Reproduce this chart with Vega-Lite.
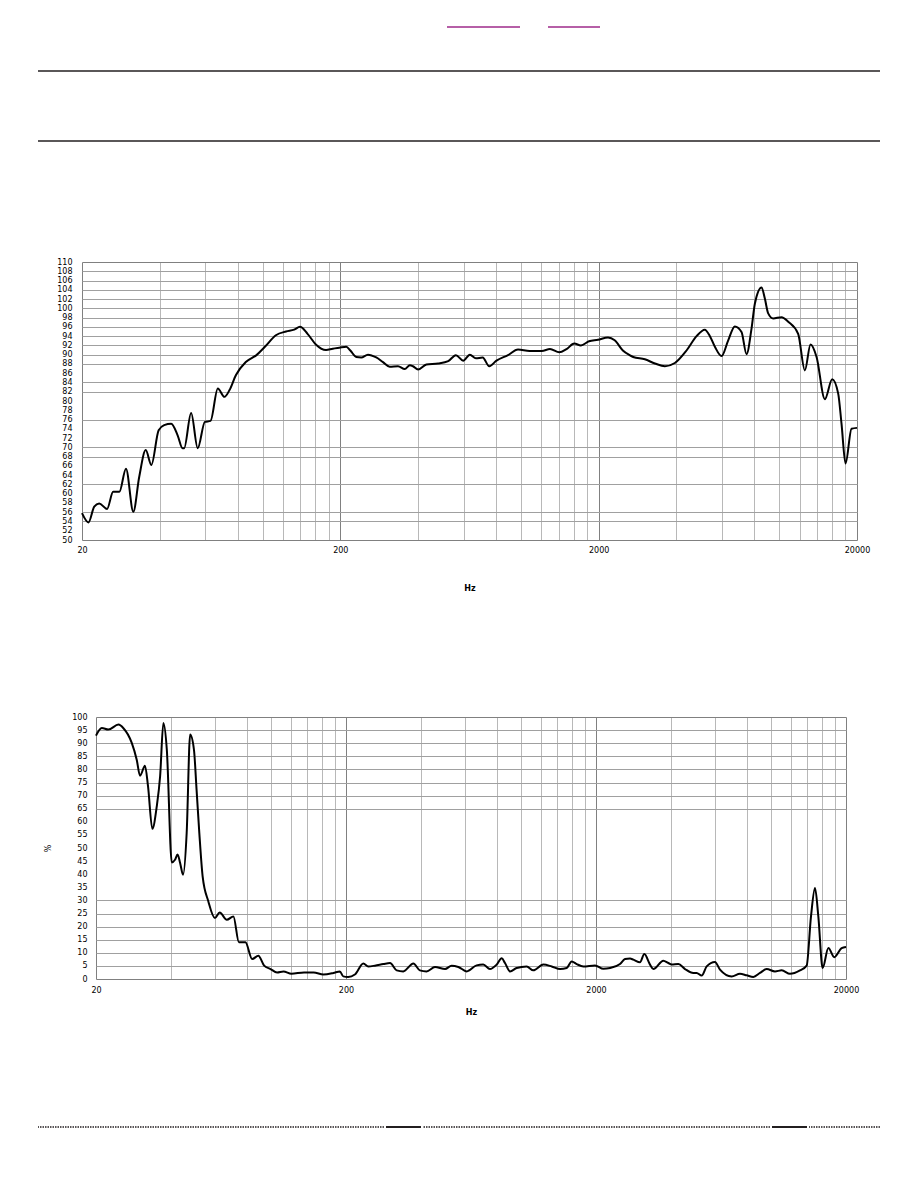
{
  "$schema": "https://vega.github.io/schema/vega-lite/v6.json",
  "background": "white",
  "padding": 0,
  "spacing": 0,
  "config": {
    "view": {"stroke": null},
    "concat": {"spacing": 0},
    "font": "DejaVu Sans",
    "axis": {
      "labelFont": "DejaVu Sans",
      "labelFontSize": 8,
      "labelColor": "#000000",
      "titleFont": "DejaVu Sans",
      "titleFontSize": 8,
      "titleColor": "#000000",
      "ticks": false,
      "tickSize": 0,
      "domain": false,
      "gridWidth": 1
    }
  },
  "vconcat": [
    {"width": 918, "height": 26, "data": {"values": [{}]}, "mark": {"type": "point", "opacity": 0, "size": 0, "strokeWidth": 0}},
    {
      "spacing": 0,
      "hconcat": [
        {"width": 446, "height": 2, "data": {"values": [{}]}, "mark": {"type": "point", "opacity": 0, "size": 0, "strokeWidth": 0}},
        {"width": 73, "height": 2, "data": {"values": [{"k": "link1"}]}, "mark": {"type": "rule", "color": "#9e2a8a", "strokeWidth": 1.5},
         "encoding": {"y": {"field": "k", "type": "nominal", "axis": null, "scale": {"type": "point", "padding": 0}}}},
        {"width": 26, "height": 2, "data": {"values": [{}]}, "mark": {"type": "point", "opacity": 0, "size": 0, "strokeWidth": 0}},
        {"width": 52, "height": 2, "data": {"values": [{"k": "link2"}]}, "mark": {"type": "rule", "color": "#9e2a8a", "strokeWidth": 1.5},
         "encoding": {"y": {"field": "k", "type": "nominal", "axis": null, "scale": {"type": "point", "padding": 0}}}}
      ]
    },
    {"width": 918, "height": 42, "data": {"values": [{}]}, "mark": {"type": "point", "opacity": 0, "size": 0, "strokeWidth": 0}},
    {
      "spacing": 0,
      "hconcat": [
        {"width": 37, "height": 70, "data": {"values": [{}]}, "mark": {"type": "point", "opacity": 0, "size": 0, "strokeWidth": 0}},
        {"width": 842, "height": 70, "data": {"values": [{"k": "upper"}, {"k": "lower"}]},
         "mark": {"type": "rule", "color": "#231f20", "strokeWidth": 1.3},
         "encoding": {"y": {"field": "k", "type": "nominal", "sort": ["upper", "lower"], "axis": null, "scale": {"type": "point", "padding": 0}}}}
      ]
    },
    {"width": 918, "height": 116, "data": {"values": [{}]}, "mark": {"type": "point", "opacity": 0, "size": 0, "strokeWidth": 0}},
    {
      "spacing": 0,
      "hconcat": [
        {"width": 42, "height": 278, "data": {"values": [{}]}, "mark": {"type": "point", "opacity": 0, "size": 0, "strokeWidth": 0}},
        {
          "width": 775,
          "height": 278,
          "data": {"values": [
            {"f": 20, "db": 55.8}, {"f": 21.2, "db": 53.8}, {"f": 22.3, "db": 57.2}, {"f": 23.3, "db": 57.9},
            {"f": 25.0, "db": 56.7}, {"f": 26.4, "db": 60.4}, {"f": 27.9, "db": 60.4}, {"f": 29.6, "db": 65.4},
            {"f": 31.6, "db": 56.1}, {"f": 33.3, "db": 63.6}, {"f": 35.3, "db": 69.4}, {"f": 37.1, "db": 66.2},
            {"f": 39.6, "db": 73.7}, {"f": 41.6, "db": 74.8}, {"f": 44.3, "db": 75.1}, {"f": 46.9, "db": 72.6},
            {"f": 49.0, "db": 69.8}, {"f": 49.7, "db": 69.8}, {"f": 52.9, "db": 77.4}, {"f": 56.1, "db": 69.8},
            {"f": 59.8, "db": 75.5}, {"f": 62.9, "db": 75.7}, {"f": 67.1, "db": 82.7}, {"f": 71.2, "db": 80.9},
            {"f": 74.4, "db": 82.3}, {"f": 78.9, "db": 85.6}, {"f": 86.1, "db": 88.4}, {"f": 94.7, "db": 89.9},
            {"f": 102.1, "db": 91.7}, {"f": 112.6, "db": 94.2}, {"f": 123.3, "db": 95.0}, {"f": 132.6, "db": 95.4},
            {"f": 139.6, "db": 96.0}, {"f": 149.3, "db": 94.5}, {"f": 160.8, "db": 92.2}, {"f": 176.1, "db": 91.0},
            {"f": 187.0, "db": 91.3}, {"f": 198.2, "db": 91.5}, {"f": 210.9, "db": 91.7}, {"f": 218.6, "db": 90.9},
            {"f": 230.6, "db": 89.5}, {"f": 241, "db": 89.4}, {"f": 255.8, "db": 90.0}, {"f": 275.5, "db": 89.4},
            {"f": 292.5, "db": 88.4}, {"f": 310.6, "db": 87.4}, {"f": 334.4, "db": 87.5}, {"f": 355.1, "db": 86.9},
            {"f": 371.6, "db": 87.7}, {"f": 382, "db": 87.5}, {"f": 399.9, "db": 86.8}, {"f": 430.8, "db": 87.9},
            {"f": 478.3, "db": 88.1}, {"f": 523.3, "db": 88.6}, {"f": 560.1, "db": 89.9}, {"f": 597.9, "db": 88.7},
            {"f": 634.6, "db": 90.0}, {"f": 669.5, "db": 89.2}, {"f": 711, "db": 89.4}, {"f": 754.3, "db": 87.5},
            {"f": 804.3, "db": 88.7}, {"f": 891.6, "db": 89.9}, {"f": 974.6, "db": 91.1}, {"f": 1080, "db": 90.8},
            {"f": 1205, "db": 90.8}, {"f": 1296, "db": 91.2}, {"f": 1408, "db": 90.5}, {"f": 1502, "db": 91.2},
            {"f": 1609, "db": 92.4}, {"f": 1707, "db": 92.0}, {"f": 1836, "db": 92.9}, {"f": 1988, "db": 93.2},
            {"f": 2174, "db": 93.7}, {"f": 2307, "db": 93.1}, {"f": 2481, "db": 90.9}, {"f": 2634, "db": 89.9},
            {"f": 2721, "db": 89.5}, {"f": 3018, "db": 89.0}, {"f": 3301, "db": 88.1}, {"f": 3609, "db": 87.5},
            {"f": 3945, "db": 88.2}, {"f": 4377, "db": 90.9}, {"f": 4785, "db": 94.0}, {"f": 5152, "db": 95.4},
            {"f": 5391, "db": 94.0}, {"f": 5636, "db": 91.7}, {"f": 5981, "db": 89.7}, {"f": 6346, "db": 93.1},
            {"f": 6732, "db": 96.1}, {"f": 7145, "db": 94.9}, {"f": 7472, "db": 90.1}, {"f": 7811, "db": 95.6},
            {"f": 8047, "db": 101.0}, {"f": 8540, "db": 104.5}, {"f": 8797, "db": 102.1}, {"f": 9063, "db": 98.9},
            {"f": 9476, "db": 97.8}, {"f": 10210, "db": 98.1}, {"f": 10834, "db": 97.1}, {"f": 11838, "db": 94.5},
            {"f": 12566, "db": 86.6}, {"f": 13218, "db": 92.2}, {"f": 13948, "db": 89.5}, {"f": 15020, "db": 80.4},
            {"f": 16032, "db": 84.7}, {"f": 16915, "db": 81.6}, {"f": 17421, "db": 75.1}, {"f": 18057, "db": 66.5},
            {"f": 19049, "db": 74.0}, {"f": 20000, "db": 74.2}
          ]},
          "mark": {"type": "line", "color": "#000000", "strokeWidth": 2, "interpolate": "monotone"},
          "encoding": {
            "x": {
              "field": "f", "type": "quantitative",
              "scale": {"type": "log", "domain": [20, 20000], "nice": false},
              "axis": {
                "values": [20, 40, 60, 80, 100, 120, 140, 160, 180, 200, 400, 600, 800, 1000, 1200, 1400, 1600, 1800, 2000, 4000, 6000, 8000, 10000, 12000, 14000, 16000, 18000, 20000],
                "format": "d",
                "labelExpr": "indexof([20, 200, 2000, 20000], datum.value) >= 0 ? datum.label : ''",
                "labelOverlap": false,
                "labelFlush": false,
                "labelPadding": 6,
                "gridColor": {"condition": {"test": "indexof([20, 200, 2000, 20000], datum.value) >= 0", "value": "#808080"}, "value": "#b8b8b8"},
                "title": "Hz",
                "titleFontWeight": "bold",
                "titlePadding": 30
              }
            },
            "y": {
              "field": "db", "type": "quantitative",
              "scale": {"domain": [50, 110], "nice": false, "zero": false},
              "axis": {
                "values": [50, 52, 54, 56, 58, 60, 62, 64, 66, 68, 70, 72, 74, 76, 78, 80, 82, 84, 86, 88, 90, 92, 94, 96, 98, 100, 102, 104, 106, 108, 110],
                "labelOverlap": false,
                "labelPadding": 10,
                "gridColor": {"condition": {"test": "datum.value == 50 || datum.value == 110", "value": "#808080"}, "value": "#a0a0a0"},
                "gridOpacity": {"condition": {"test": "indexof([50, 54, 56, 62, 68, 70, 76, 82, 84, 88, 90, 92, 94, 96, 98, 100, 102, 104, 106, 108, 110], datum.value) >= 0", "value": 1}, "value": 0},
                "title": null,
                "minExtent": 40,
                "maxExtent": 40
              }
            }
          }
        }
      ]
    },
    {"width": 918, "height": 121, "data": {"values": [{}]}, "mark": {"type": "point", "opacity": 0, "size": 0, "strokeWidth": 0}},
    {
      "spacing": 0,
      "hconcat": [
        {"width": 44, "height": 262, "data": {"values": [{}]}, "mark": {"type": "point", "opacity": 0, "size": 0, "strokeWidth": 0}},
        {
          "width": 750,
          "height": 262,
          "data": {"values": [
            {"f": 20, "p": 92.9}, {"f": 21.1, "p": 95.8}, {"f": 22.4, "p": 95.2}, {"f": 24.6, "p": 97.1},
            {"f": 25.7, "p": 95.8}, {"f": 27.8, "p": 90.1}, {"f": 29.1, "p": 83.7}, {"f": 30.0, "p": 77.6},
            {"f": 31.4, "p": 81.4}, {"f": 32.3, "p": 73.5}, {"f": 33.6, "p": 57.3}, {"f": 35.0, "p": 65.9},
            {"f": 36.1, "p": 77.4}, {"f": 37.2, "p": 97.7}, {"f": 38.4, "p": 87.5}, {"f": 40.2, "p": 44.5},
            {"f": 41.4, "p": 45.5}, {"f": 42.4, "p": 47.5}, {"f": 43.4, "p": 44.3}, {"f": 44.6, "p": 39.8},
            {"f": 46.1, "p": 55.7}, {"f": 47.6, "p": 93.3}, {"f": 49.3, "p": 87.5}, {"f": 50.5, "p": 72.3},
            {"f": 51.8, "p": 55.7}, {"f": 53.4, "p": 39.2}, {"f": 56.3, "p": 29.6}, {"f": 59.8, "p": 23.3},
            {"f": 62.5, "p": 25.4}, {"f": 66.7, "p": 22.6}, {"f": 70.9, "p": 23.9}, {"f": 74.6, "p": 14.0},
            {"f": 79.2, "p": 14.0}, {"f": 84.3, "p": 7.6}, {"f": 89.2, "p": 8.9}, {"f": 94.1, "p": 5.1},
            {"f": 99.8, "p": 3.8}, {"f": 106, "p": 2.5}, {"f": 112.4, "p": 2.9}, {"f": 121, "p": 2.0},
            {"f": 135.9, "p": 2.5}, {"f": 148.5, "p": 2.5}, {"f": 162.4, "p": 1.7}, {"f": 178.2, "p": 2.3},
            {"f": 189, "p": 2.9}, {"f": 195, "p": 1.0}, {"f": 204, "p": 0.8}, {"f": 217, "p": 1.7},
            {"f": 234.6, "p": 5.9}, {"f": 245.6, "p": 4.8}, {"f": 261, "p": 5.1}, {"f": 282, "p": 5.7},
            {"f": 300, "p": 6.1}, {"f": 319, "p": 3.3}, {"f": 339, "p": 2.9}, {"f": 372, "p": 5.9},
            {"f": 395, "p": 3.3}, {"f": 420, "p": 2.9}, {"f": 454, "p": 4.6}, {"f": 498, "p": 3.8},
            {"f": 529, "p": 5.1}, {"f": 563, "p": 4.6}, {"f": 608, "p": 2.9}, {"f": 666, "p": 5.2},
            {"f": 708, "p": 5.5}, {"f": 753, "p": 3.8}, {"f": 801, "p": 5.5}, {"f": 839, "p": 7.9},
            {"f": 865, "p": 6.1}, {"f": 906, "p": 2.9}, {"f": 963, "p": 4.2}, {"f": 1056, "p": 4.8},
            {"f": 1123, "p": 3.3}, {"f": 1231, "p": 5.5}, {"f": 1330, "p": 4.8}, {"f": 1436, "p": 3.8},
            {"f": 1527, "p": 4.2}, {"f": 1598, "p": 6.7}, {"f": 1674, "p": 5.7}, {"f": 1780, "p": 4.8},
            {"f": 1982, "p": 5.2}, {"f": 2140, "p": 3.9}, {"f": 2276, "p": 4.2}, {"f": 2495, "p": 5.7},
            {"f": 2612, "p": 7.6}, {"f": 2736, "p": 7.8}, {"f": 2821, "p": 7.4}, {"f": 2999, "p": 6.4},
            {"f": 3121, "p": 9.5}, {"f": 3289, "p": 5.5}, {"f": 3392, "p": 3.8}, {"f": 3718, "p": 7.0},
            {"f": 3893, "p": 6.1}, {"f": 4014, "p": 5.5}, {"f": 4270, "p": 5.7}, {"f": 4539, "p": 3.8},
            {"f": 4902, "p": 2.3}, {"f": 5054, "p": 2.3}, {"f": 5294, "p": 1.3}, {"f": 5543, "p": 4.8},
            {"f": 5984, "p": 6.5}, {"f": 6266, "p": 3.6}, {"f": 6976, "p": 1.0}, {"f": 7534, "p": 2.0},
            {"f": 8013, "p": 1.4}, {"f": 8518, "p": 0.8}, {"f": 9057, "p": 2.3}, {"f": 9632, "p": 3.8},
            {"f": 10400, "p": 2.9}, {"f": 11058, "p": 3.3}, {"f": 11940, "p": 2.0}, {"f": 13092, "p": 3.3},
            {"f": 13920, "p": 5.1}, {"f": 14488, "p": 23.9}, {"f": 15032, "p": 34.7}, {"f": 15500, "p": 23.9},
            {"f": 16130, "p": 4.2}, {"f": 17000, "p": 11.8}, {"f": 17962, "p": 8.3}, {"f": 19218, "p": 11.8},
            {"f": 20000, "p": 12.2}
          ]},
          "mark": {"type": "line", "color": "#000000", "strokeWidth": 2, "interpolate": "monotone"},
          "encoding": {
            "x": {
              "field": "f", "type": "quantitative",
              "scale": {"type": "log", "domain": [20, 20000], "nice": false},
              "axis": {
                "values": [20, 40, 60, 80, 100, 120, 140, 160, 180, 200, 400, 600, 800, 1000, 1200, 1400, 1600, 1800, 2000, 4000, 6000, 8000, 10000, 12000, 14000, 16000, 18000, 20000],
                "format": "d",
                "labelExpr": "indexof([20, 200, 2000, 20000], datum.value) >= 0 ? datum.label : ''",
                "labelOverlap": false,
                "labelFlush": false,
                "labelPadding": 7,
                "gridColor": {"condition": {"test": "indexof([20, 200, 2000, 20000], datum.value) >= 0", "value": "#808080"}, "value": "#b8b8b8"},
                "title": "Hz",
                "titleFontWeight": "bold",
                "titlePadding": 14
              }
            },
            "y": {
              "field": "p", "type": "quantitative",
              "scale": {"domain": [0, 100], "nice": false},
              "axis": {
                "values": [0, 5, 10, 15, 20, 25, 30, 35, 40, 45, 50, 55, 60, 65, 70, 75, 80, 85, 90, 95, 100],
                "labelOverlap": false,
                "labelPadding": 9,
                "gridColor": {"condition": {"test": "datum.value == 0 || datum.value == 100", "value": "#808080"}, "value": "#a0a0a0"},
                "gridOpacity": {"condition": {"test": "datum.value <= 30 || datum.value >= 65", "value": 1}, "value": 0},
                "title": "%",
                "titleFontWeight": "normal",
                "titlePadding": 14,
                "minExtent": 30,
                "maxExtent": 30
              }
            }
          }
        }
      ]
    },
    {"width": 918, "height": 110, "data": {"values": [{}]}, "mark": {"type": "point", "opacity": 0, "size": 0, "strokeWidth": 0}},
    {
      "spacing": 0,
      "hconcat": [
        {"width": 37, "height": 2, "data": {"values": [{}]}, "mark": {"type": "point", "opacity": 0, "size": 0, "strokeWidth": 0}},
        {"width": 346, "height": 2, "data": {"values": [{"k": "footer"}]},
         "mark": {"type": "rule", "color": "#231f20", "strokeWidth": 1.5, "strokeDash": [1.5, 1]},
         "encoding": {"y": {"field": "k", "type": "nominal", "axis": null, "scale": {"type": "point", "padding": 0}}}},
        {"width": 35, "height": 2, "data": {"values": [{"k": "footer"}]},
         "mark": {"type": "rule", "color": "#231f20", "strokeWidth": 1.8},
         "encoding": {"y": {"field": "k", "type": "nominal", "axis": null, "scale": {"type": "point", "padding": 0}}}},
        {"width": 347, "height": 2, "data": {"values": [{"k": "footer"}]},
         "mark": {"type": "rule", "color": "#231f20", "strokeWidth": 1.5, "strokeDash": [1.5, 1]},
         "encoding": {"y": {"field": "k", "type": "nominal", "axis": null, "scale": {"type": "point", "padding": 0}}}},
        {"width": 35, "height": 2, "data": {"values": [{"k": "footer"}]},
         "mark": {"type": "rule", "color": "#231f20", "strokeWidth": 1.8},
         "encoding": {"y": {"field": "k", "type": "nominal", "axis": null, "scale": {"type": "point", "padding": 0}}}},
        {"width": 71, "height": 2, "data": {"values": [{"k": "footer"}]},
         "mark": {"type": "rule", "color": "#231f20", "strokeWidth": 1.5, "strokeDash": [1.5, 1]},
         "encoding": {"y": {"field": "k", "type": "nominal", "axis": null, "scale": {"type": "point", "padding": 0}}}}
      ]
    }
  ]
}
